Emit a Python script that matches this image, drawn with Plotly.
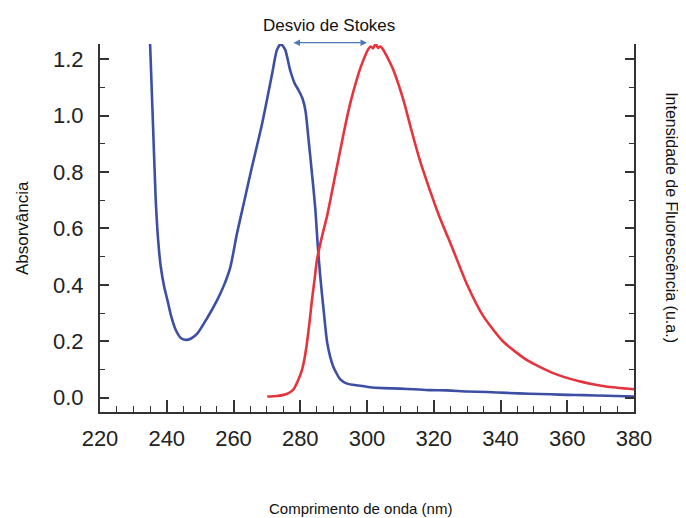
import plotly.graph_objects as go

# Absorbance (blue)
abs_x = [234.85, 235.0, 235.9, 236.7, 237.2, 237.7, 238.2, 239.2, 240.2, 241.3, 242.7, 244.2, 245.7,
         247.3, 249.2, 252.0, 255.1, 257.2, 259.1, 261.0, 263.1, 265.1, 268.6, 271.6, 273.0, 274.2,
         275.5, 277.0, 278.3, 279.5, 280.7, 281.6, 282.5, 283.5, 284.5, 285.2, 286.0, 287.0, 288.1, 289.9,
         292.0, 294.0, 297.4, 300.9, 305.0, 310.0, 314.0, 318.8, 324.0, 330.0, 336.0, 342.0, 348.7,
         355.0, 360.0, 365.0, 372.0, 380.0]
abs_y = [1.30, 1.257, 0.96, 0.70, 0.594, 0.52, 0.465, 0.395, 0.346, 0.29, 0.24, 0.212, 0.205,
         0.21, 0.228, 0.28, 0.346, 0.40, 0.465, 0.58, 0.69, 0.796, 0.973, 1.15, 1.233, 1.254,
         1.233, 1.16, 1.115, 1.09, 1.06, 1.015, 0.914, 0.796, 0.672, 0.547, 0.429, 0.311, 0.193, 0.110,
         0.065, 0.050, 0.043, 0.037, 0.034, 0.032, 0.030, 0.027, 0.026, 0.022, 0.020, 0.017, 0.014,
         0.012, 0.010, 0.009, 0.007, 0.004]

# Fluorescence (red, scaled)
flu_x = [270.1, 273.0, 275.0, 276.5, 278.0, 279.3, 280.5, 281.3, 282.0, 282.8, 283.5, 284.3, 285.0,
         286.5, 288.0, 289.5, 291.0, 292.2, 293.4, 294.6, 295.9, 297.9, 299.9, 300.5, 301.2, 301.8,
         302.6, 303.3, 304.0, 304.9, 306.4, 307.9, 310.9, 313.3, 315.8, 318.8, 321.5, 325.8, 329.8,
         334.8, 340.7, 347.7, 355.6, 363.6, 371.6, 380.0]
flu_y = [0.004, 0.006, 0.010, 0.016, 0.030, 0.060, 0.098, 0.140, 0.193, 0.270, 0.346, 0.420, 0.488,
         0.571, 0.642, 0.730, 0.819, 0.890, 0.960, 1.025, 1.085, 1.165, 1.225, 1.238, 1.245, 1.238,
         1.255, 1.240, 1.245, 1.233, 1.200, 1.162, 1.056, 0.949, 0.843, 0.737, 0.648, 0.524, 0.406,
         0.290, 0.200, 0.135, 0.088, 0.058, 0.040, 0.030]

x_ticks = [220, 240, 260, 280, 300, 320, 340, 360, 380]
y_ticks = [0.0, 0.2, 0.4, 0.6, 0.8, 1.0, 1.2]

fig = go.Figure()
fig.add_trace(go.Scatter(x=abs_x, y=abs_y, mode="lines",
                         line=dict(color="#3d4fa3", width=2.6, shape="spline", smoothing=0.6)))
fig.add_trace(go.Scatter(x=flu_x, y=flu_y, mode="lines",
                         line=dict(color="#e6343e", width=2.6, shape="spline", smoothing=0.6)))

tickfont = dict(family="Liberation Sans, Arial", size=22, color="#222")
titlefont = dict(family="Liberation Sans, Arial", size=17, color="#111")

fig.update_xaxes(range=[220, 380], tickvals=x_ticks, ticktext=[str(v) for v in x_ticks],
                 ticks="inside", ticklen=12, tickwidth=1.6, tickcolor="#333",
                 minor=dict(dtick=5, ticks="inside", ticklen=6, tickwidth=1.4, tickcolor="#333"),
                 showline=True, linecolor="#333", linewidth=2, mirror=False,
                 showgrid=False, zeroline=False, tickfont=tickfont, ticklabelstandoff=6)
fig.update_yaxes(range=[-0.0507, 1.254], tickvals=y_ticks, ticktext=["%.1f" % v for v in y_ticks],
                 ticks="inside", ticklen=9, tickwidth=1.6, tickcolor="#333",
                 minor=dict(dtick=0.1, tick0=0, ticks="inside", ticklen=5, tickwidth=1.4, tickcolor="#333"),
                 showline=True, linecolor="#333", linewidth=2, mirror="ticks",
                 showgrid=False, zeroline=False, tickfont=tickfont, ticklabelstandoff=10)

fig.add_annotation(x=0.5, y=1.0035, xref="paper", yref="paper", ax=-75, ay=0, axref="pixel", ayref="pixel",
                   text="", showarrow=True, arrowhead=2, startarrowhead=2, arrowside="end+start",
                   arrowsize=1, arrowwidth=1.3, arrowcolor="#4a78b8")
fig.add_annotation(x=0.429, y=1.0516, xref="paper", yref="paper", text="Desvio de Stokes",
                   showarrow=False, font=titlefont, xanchor="center", yanchor="middle")
fig.add_annotation(x=-0.146, y=0.5, xref="paper", yref="paper", text="Absorvância",
                   showarrow=False, font=titlefont, textangle=-90, xanchor="center", yanchor="middle")
fig.add_annotation(x=1.071, y=0.527, xref="paper", yref="paper", text="Intensidade de Fluorescência (u.a.)",
                   showarrow=False, font=dict(family="Liberation Sans, Arial", size=16, color="#111"),
                   textangle=90, xanchor="center", yanchor="middle")
fig.add_annotation(x=0.487, y=-0.261, xref="paper", yref="paper", text="Comprimento de onda (nm)",
                   showarrow=False, font=dict(family="Liberation Sans, Arial", size=15, color="#111"),
                   xanchor="center", yanchor="middle")

# page body has an 8px margin, so the figure is sized to land where the reference is
fig.update_layout(width=678, height=510, margin=dict(l=92, r=52, t=36, b=106),
                  paper_bgcolor="white", plot_bgcolor="white", showlegend=False)

fig.write_html("out.html")
